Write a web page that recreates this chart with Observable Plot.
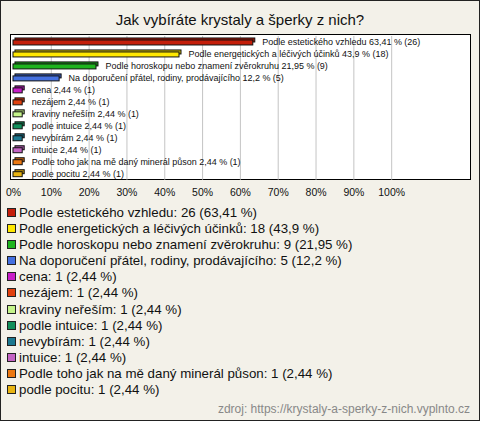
<!DOCTYPE html>
<html><head><meta charset="utf-8">
<script src="https://cdn.jsdelivr.net/npm/d3@7"></script>
<script src="https://cdn.jsdelivr.net/npm/@observablehq/plot@0.6"></script>
<style>
html,body{margin:0;padding:0;background:#fff}
#wrap{position:relative;width:480px;height:421px;box-sizing:border-box;border:1px solid #222;background:#f3f1e9;font-family:"Liberation Sans",Arial,sans-serif;overflow:hidden}
#title{position:absolute;left:0;top:9px;width:478px;text-align:center;font-size:15px;line-height:20px;color:#111}
#box{position:absolute;left:9px;top:33px;width:461px;height:146px;box-sizing:border-box;border:1px solid #000;background:#fff}
#chart{position:absolute;left:-1px;top:29px}
#legend{position:absolute;left:6px;top:204px;font-size:13.3px;line-height:16.1px;color:#111}
#legend .sw{display:inline-block;width:7px;height:7px;border:1px solid #222;margin-right:3px;vertical-align:0px}
#src{position:absolute;right:9px;top:401px;font-size:12px;color:#888}
</style>
</head><body>
<div id="wrap">
  <div id="title"></div>
  <div id="box"></div>
  <div id="chart"></div>
  <div id="legend"></div>
  <div id="src"></div>
</div>
<script>
const titleText = "Jak vybíráte krystaly a šperky z nich?";
const sourceText = "zdroj: https://krystaly-a-sperky-z-nich.vyplnto.cz";
const names = [
  "Podle estetického vzhledu",
  "Podle energetických a léčivých účinků",
  "Podle horoskopu nebo znamení zvěrokruhu",
  "Na doporučení přátel, rodiny, prodávajícího",
  "cena",
  "nezájem",
  "kraviny neřeším",
  "podle intuice",
  "nevybírám",
  "intuice",
  "Podle toho jak na mě daný minerál půson",
  "podle pocitu"
];
const counts = [26, 18, 9, 5, 1, 1, 1, 1, 1, 1, 1, 1];
const percents = [63.41, 43.9, 21.95, 12.2, 2.44, 2.44, 2.44, 2.44, 2.44, 2.44, 2.44, 2.44];
const colors = ["#c41e0a", "#ffe800", "#1eb41e", "#4470e0", "#c81ec8", "#e0400e", "#c4f48a", "#12905c", "#1c7890", "#c464c4", "#ec7812", "#e8b412"];
const xTicks = [0, 10, 20, 30, 40, 50, 60, 70, 80, 90, 100];

const fmt = v => String(v).replace(".", ",");
const data = names.map((n, i) => ({name: n, count: counts[i], pct: percents[i], color: colors[i]}));

document.getElementById("title").textContent = titleText;
document.getElementById("src").textContent = sourceText;

const darker = c => d3.color(c).darker(0.6).formatHex();

const plot = Plot.plot({
  width: 480,
  height: 176,
  marginTop: 6,
  marginBottom: 26,
  marginLeft: 13,
  marginRight: 88,
  style: {background: "transparent", fontFamily: "Liberation Sans, Arial, sans-serif", color: "#111", overflow: "visible", fontSize: "10.5px"},
  x: {domain: [0, 100], ticks: xTicks, tickFormat: d => d + "%", label: null, tickSize: 0, tickPadding: 8},
  y: {domain: names, axis: null, padding: 0},
  color: {type: "identity"},
  marks: [
    Plot.ruleX(xTicks.slice(1), {stroke: "#c4c4c4", strokeWidth: 1}),
    Plot.barX(data, {x: "pct", y: "name", fill: d => darker(d.color), stroke: "#111", strokeWidth: 1, insetTop: 3, insetBottom: 5, dx: 2, dy: -1}),
    Plot.barX(data, {x: "pct", y: "name", fill: "color", stroke: "#111", strokeWidth: 1, insetTop: 4, insetBottom: 3}),
    Plot.text(data, {x: "pct", y: "name", text: d => `${d.name} ${fmt(d.pct)} % (${d.count})`, textAnchor: "start", dx: 9, dy: -0.5, fontSize: 9, fill: "#111"})
  ]
});
document.getElementById("chart").appendChild(plot);

const leg = document.getElementById("legend");
data.forEach(d => {
  const row = document.createElement("div");
  const sw = document.createElement("span");
  sw.className = "sw";
  sw.style.background = d.color;
  row.appendChild(sw);
  row.appendChild(document.createTextNode(`${d.name}: ${d.count} (${fmt(d.pct)} %)`));
  leg.appendChild(row);
});
</script>
</body></html>
